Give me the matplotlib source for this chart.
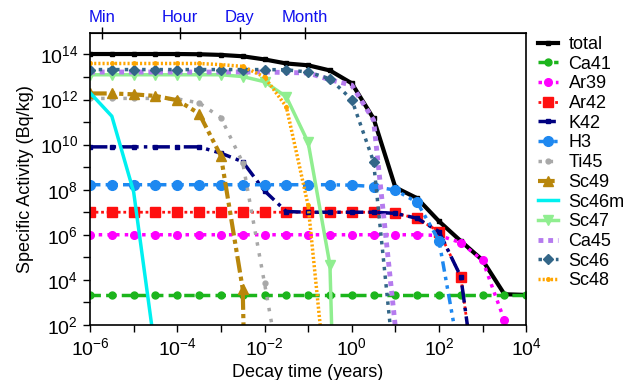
import numpy as np
import matplotlib
matplotlib.use("Agg")
import matplotlib.pyplot as plt

plt.rcParams["font.family"] = ["Liberation Sans", "DejaVu Sans"]
plt.rcParams["mathtext.default"] = "regular"

# decay time grid, log10(years)
log_t = [-6.0, -5.5, -5.0, -4.5, -4.0, -3.5, -3.0, -2.5, -2.0, -1.5, -1.0,
         -0.5, 0.0, 0.5, 1.0, 1.5, 2.0, 2.5, 3.0, 3.5, 4.0]

# log10 of specific activity (Bq/kg), None = off the chart
total = [14.02, 14.02, 14.02, 14.02, 14.02, 14.01, 13.98, 13.92, 13.78, 13.6, 13.52,
         13.29, 12.72, 11.16, 8.1, 7.62, 6.6, 5.72, 4.87, 3.36, 3.33]
ca41 = [3.33] * 21
ar39 = [6.0, 6.0, 6.0, 6.0, 6.0, 6.0, 6.0, 6.0, 6.0, 6.0, 6.0,
        6.0, 6.0, 6.0, 6.0, 6.0, 5.97, 5.65, 4.86, 2.2, None]
ar42 = [7.0, 7.0, 7.0, 7.0, 7.0, 7.0, 7.0, 7.0, 7.0, 7.0, 7.0,
        7.0, 7.0, 7.0, 6.95, 6.73, 6.14, 4.14, -3.0, None, None]
k42 = [9.9, 9.9, 9.9, 9.9, 9.9, 9.9, 9.62, 9.24, 7.95, 7.03, 7.0,
       7.0, 7.0, 7.0, 6.95, 6.73, 6.14, 4.14, -3.0, None, None]
h3 = [8.22, 8.22, 8.22, 8.22, 8.22, 8.22, 8.22, 8.22, 8.22, 8.22, 8.22,
      8.22, 8.2, 8.14, 7.98, 7.44, 5.74, 0.3, None, None, None]
ti45 = [12.05, 12.05, 12.05, 12.05, 12.03, 11.85, 11.2, 9.2, 3.85, -1.6, None,
        None, None, None, None, None, None, None, None, None, None]
sc49 = [12.27, 12.27, 12.23, 12.16, 11.97, 11.38, 9.5, 3.6, -40.0, None, None,
        None, None, None, None, None, None, None, None, None, None]
sc46m = [12.3, 11.26, 7.9, 0.75, None, None, None, None, None, None, None,
         None, None, None, None, None, None, None, None, None, None]
sc47 = [13.1, 13.1, 13.1, 13.1, 13.1, 13.1, 13.1, 13.02, 12.79, 12.12, 10.1,
        4.66, -30.0, None, None, None, None, None, None, None, None]
ca45 = [13.22, 13.22, 13.22, 13.22, 13.22, 13.22, 13.22, 13.22, 13.22, 13.2, 13.18,
        12.88, 12.64, 11.09, 1.9, -20.0, None, None, None, None, None]
sc46 = [13.33, 13.33, 13.33, 13.33, 13.33, 13.33, 13.33, 13.33, 13.33, 13.32, 13.22,
        12.92, 12.0, 9.24, -0.3, None, None, None, None, None, None]
sc48 = [13.6, 13.6, 13.6, 13.6, 13.6, 13.6, 13.55, 13.47, 13.0, 11.68, 7.3,
        -2.3, None, None, None, None, None, None, None, None, None]

top_names = ["Min", "Hour", "Day", "Month"]
top_years = [1 / (365.25 * 24 * 60), 1 / (365.25 * 24), 1 / 365.25, 1 / 12]


def act(v):
    return 10 ** np.array([np.nan if x is None else x for x in v], dtype=float)


t = 10 ** np.array(log_t)

fig, ax = plt.subplots(figsize=(6.34, 3.8), dpi=100)
fig.subplots_adjust(left=0.142, right=0.83, bottom=0.145, top=0.913)

ax.plot(t, act(total), color="black", lw=3, marker="s", ms=3, label="total")
ax.plot(t, act(ca41), color="#1cb51c", lw=2.5, ls=(0, (3, 1.5)), marker="o", ms=5, label="Ca41")
ax.plot(t, act(ar39), color="#ff00ff", lw=2.5, ls=(0, (1, 1.5)), marker="o", ms=5.5, label="Ar39")
ax.plot(t, act(ar42), color="#ff1010", lw=2, ls=(0, (1, 1)), marker="s", ms=7, label="Ar42")
ax.plot(t, act(k42), color="#000080", lw=2.5, ls=(0, (5, 1.5, 1, 1.5)), marker="s", ms=3.5, label="K42")
ax.plot(t, act(h3), color="#1e88f0", lw=2.5, ls=(0, (3, 1.5, 1, 1.5, 1, 1.5)), marker="o", ms=7, label="H3")
ax.plot(t, act(ti45), color="#a8a8a8", lw=2.5, ls=(0, (1, 2.2)), marker="o", ms=3.5, label="Ti45")
ax.plot(t, act(sc49), color="#b8860b", lw=3, ls=(0, (4, 1, 1, 1, 1, 1)), marker="^", ms=7.5, label="Sc49")
ax.plot(t, act(sc46m), color="#00f0f0", lw=2.5, label="Sc46m")
ax.plot(t, act(sc47), color="#90ee90", lw=2.5, marker="v", ms=7, label="Sc47")
ax.plot(t, act(ca45), color="#b57bee", lw=3.5, ls=(0, (1, 1)), label="Ca45")
ax.plot(t, act(sc46), color="#336688", lw=2.5, ls=(0, (1, 1.5)), marker="D", ms=5.5, label="Sc46")
ax.plot(t, act(sc48), color="#ffa500", lw=2.5, ls=(0, (0.6, 0.6)), marker="o", ms=2.5, label="Sc48")

ax.set_xscale("log")
ax.set_yscale("log")
ax.set_xlim(1e-6, 1e4)
ax.set_ylim(1e2, 10 ** 14.95)
ax.set_xticks(10.0 ** np.arange(-6, 5, 2))
ax.set_xticks(10.0 ** np.arange(-5, 4, 2), minor=True)
ax.set_yticks(10.0 ** np.arange(2, 15, 2))
ax.set_yticks(10.0 ** np.arange(3, 15, 2), minor=True)
ax.tick_params(which="both", length=5, width=1, labelsize=14)
ax.tick_params(which="minor", labelleft=False, labelbottom=False)
for s in ax.spines.values():
    s.set_linewidth(1.2)

ax.set_xlabel("Decay time (years)", fontsize=13)
ax.set_ylabel("Specific Activity (Bq/kg)", fontsize=13)

top = ax.secondary_xaxis("top")
top.set_xticks(top_years)
top.set_xticklabels(top_names, color="#1010ee", fontsize=12)
top.xaxis.set_minor_locator(matplotlib.ticker.NullLocator())
top.tick_params(direction="inout", length=8, width=1, pad=2)

ax.legend(loc="upper left", bbox_to_anchor=(1.01, 1.015), frameon=False, fontsize=13,
          handlelength=1.1, handletextpad=0.6, labelspacing=0.15, borderaxespad=0.0)

fig.savefig("out.png", dpi=100)
